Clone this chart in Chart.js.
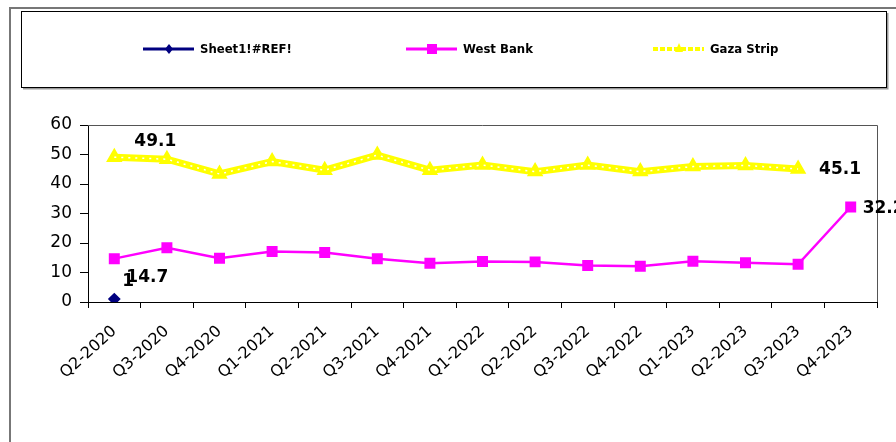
<!DOCTYPE html>
<html>
<head>
<meta charset="utf-8">
<script src="https://cdn.jsdelivr.net/npm/chart.js@4.4.0/dist/chart.umd.min.js"></script>
<style>
  html, body { margin: 0; padding: 0; background: #fff; }
  #wrap { width: 896px; height: 442px; }
</style>
</head>
<body>
<div id="wrap"><canvas id="chart" width="896" height="442"></canvas></div>
<script>
// categorias (trimestres)
const quarters = ['Q2-2020', 'Q3-2020', 'Q4-2020', 'Q1-2021', 'Q2-2021', 'Q3-2021', 'Q4-2021',
    'Q1-2022', 'Q2-2022', 'Q3-2022', 'Q4-2022', 'Q1-2023', 'Q2-2023', 'Q3-2023', 'Q4-2023'];

// séries
const refSeries = [1, null, null, null, null, null, null, null, null, null, null, null, null, null, null];
const westBank = [14.7, 18.4, 14.8, 17.1, 16.8, 14.7, 13.1, 13.7, 13.6, 12.4, 12.1, 13.8, 13.3, 12.8, 32.2];
const gazaStrip = [49.1, 48.4, 43.4, 47.6, 44.7, 49.8, 44.7, 46.4, 44.2, 46.4, 44.2, 45.9, 46.3, 45.1, null];

// ticks do eixo Y
const yTicks = [0, 10, 20, 30, 40, 50, 60];

// rótulos de valores: [dataset, índice, dx, dy]
const valueLabels = [
    [3, 0, 20, -16],
    [1, 0, 12, 19],
    [0, 0, 8, -17],
    [3, 13, 21, 1],
    [1, 14, 12, 2]
];

const FONT = "'DejaVu Sans', Verdana, sans-serif";
const LEGEND_FONT = "bold 13px 'Liberation Sans Narrow', 'DejaVu Sans Condensed', sans-serif";

// moldura externa + caixa da legenda
const framePlugin = {
    id: 'frame',
    beforeDraw(chart) {
        const ctx = chart.ctx;
        ctx.save();
        ctx.strokeStyle = '#777';
        ctx.lineWidth = 2;
        ctx.beginPath();
        ctx.moveTo(10, 442);
        ctx.lineTo(10, 8);
        ctx.lineTo(896, 8);
        ctx.stroke();

        // sombra da caixa
        ctx.strokeStyle = '#999';
        ctx.lineWidth = 2;
        ctx.beginPath();
        ctx.moveTo(23, 88.5);
        ctx.lineTo(887.5, 88.5);
        ctx.lineTo(887.5, 13);
        ctx.stroke();
        ctx.strokeStyle = '#000';
        ctx.lineWidth = 1;
        ctx.strokeRect(21.5, 11.5, 865, 76);
        ctx.restore();
    },
    afterDatasetsDraw(chart) {
        const ctx = chart.ctx;
        const a = chart.chartArea;
        ctx.save();
        ctx.strokeStyle = '#555';
        ctx.lineWidth = 1;
        ctx.beginPath();
        ctx.moveTo(a.left, a.top + 0.5);
        ctx.lineTo(a.right + 0.5, a.top + 0.5);
        ctx.lineTo(a.right + 0.5, a.bottom);
        ctx.stroke();
        ctx.restore();
    }
};

// legenda desenhada à mão (linha + marcador + texto)
const legendPlugin = {
    id: 'boxLegend',
    afterDraw(chart) {
        const ctx = chart.ctx;
        const items = [
            { ds: 0, x: 143 },
            { ds: 1, x: 406 },
            { ds: 3, x: 653 }
        ];
        const y = 49;
        ctx.save();
        items.forEach(it => {
            const d = chart.data.datasets[it.ds];
            const isGaza = d.pointStyle === 'triangle';
            ctx.strokeStyle = d.borderColor;
            ctx.lineWidth = isGaza ? 4 : 3;
            ctx.setLineDash(isGaza ? [5, 2] : []);
            ctx.beginPath();
            ctx.moveTo(it.x, y);
            ctx.lineTo(it.x + 51, y);
            ctx.stroke();
            ctx.setLineDash([]);
            ctx.fillStyle = d.pointBackgroundColor;
            ctx.beginPath();
            if (d.pointStyle === 'rect') {
                ctx.fillRect(it.x + 21, y - 5, 10, 10);
            } else if (d.pointStyle === 'rectRot') {
                ctx.moveTo(it.x + 26, y - 5); ctx.lineTo(it.x + 30, y);
                ctx.lineTo(it.x + 26, y + 5); ctx.lineTo(it.x + 22, y);
                ctx.closePath(); ctx.fill();
            } else {
                ctx.moveTo(it.x + 26, y - 6); ctx.lineTo(it.x + 30, y + 3);
                ctx.lineTo(it.x + 22, y + 3); ctx.closePath(); ctx.fill();
            }
            ctx.fillStyle = '#000';
            ctx.font = LEGEND_FONT;
            ctx.textBaseline = 'middle';
            ctx.textAlign = 'left';
            ctx.fillText(d.label, it.x + 57, y + 1);
        });
        ctx.restore();
    }
};

// rótulos de valor em negrito
const labelsPlugin = {
    id: 'valueLabels',
    afterDatasetsDraw(chart) {
        const ctx = chart.ctx;
        ctx.save();
        ctx.font = "bold 17px " + FONT;
        ctx.fillStyle = '#000';
        ctx.textBaseline = 'middle';
        ctx.textAlign = 'left';
        valueLabels.forEach(([ds, i, dx, dy]) => {
            const p = chart.getDatasetMeta(ds).data[i];
            const v = chart.data.datasets[ds].data[i];
            ctx.fillText(String(v), p.x + dx, p.y + dy);
        });
        ctx.restore();
    }
};

new Chart(document.getElementById('chart'), {
    type: 'line',
    data: {
        labels: quarters,
        datasets: [
            {
                label: 'Sheet1!#REF!',
                data: refSeries,
                borderColor: '#000080',
                backgroundColor: '#000080',
                pointBackgroundColor: '#000080',
                pointBorderColor: '#000080',
                pointStyle: 'rectRot',
                pointRadius: 5,
                borderWidth: 2,
                order: 0
            },
            {
                label: 'West Bank',
                data: westBank,
                borderColor: '#ff00ff',
                backgroundColor: '#ff00ff',
                pointBackgroundColor: '#ff00ff',
                pointBorderColor: '#ff00ff',
                pointStyle: 'rect',
                pointRadius: 6,
                borderWidth: 2.5,
                order: 1
            },
            {
                // pontilhado branco dentro da linha amarela
                label: '_gazaDots',
                data: gazaStrip,
                borderColor: '#ffffff',
                borderWidth: 1.5,
                borderDash: [2, 5],
                pointRadius: 0,
                order: 2
            },
            {
                label: 'Gaza Strip',
                data: gazaStrip,
                borderColor: '#ffff00',
                backgroundColor: '#ffff00',
                pointBackgroundColor: '#ffff00',
                pointBorderColor: '#ffff00',
                pointStyle: 'triangle',
                pointRadius: 2.5,
                borderWidth: 7,
                order: 3
            }
        ]
    },
    options: {
        responsive: false,
        animation: false,
        layout: { padding: { left: 10, right: 19, top: 125, bottom: 0 } },
        plugins: {
            legend: { display: false },
            tooltip: { enabled: false }
        },
        scales: {
            x: {
                offset: true,
                afterFit: s => { s.height = 140; },
                grid: { drawOnChartArea: false, drawTicks: true, tickLength: 6, color: '#000', offset: true },
                border: { color: '#000', width: 1 },
                ticks: {
                    color: '#000',
                    font: { family: FONT, size: 16 },
                    minRotation: 42,
                    maxRotation: 42,
                    autoSkip: false,
                    padding: 14
                }
            },
            y: {
                min: 0,
                max: 60,
                afterFit: s => { s.width = 78; },
                afterBuildTicks: s => { s.ticks = yTicks.map(v => ({ value: v })); },
                grid: { drawOnChartArea: false, drawTicks: true, tickLength: 8, color: '#000' },
                border: { color: '#000', width: 1 },
                ticks: {
                    color: '#000',
                    font: { family: FONT, size: 17 },
                    padding: 8
                }
            }
        }
    },
    plugins: [framePlugin, legendPlugin, labelsPlugin]
});
</script>
</body>
</html>
